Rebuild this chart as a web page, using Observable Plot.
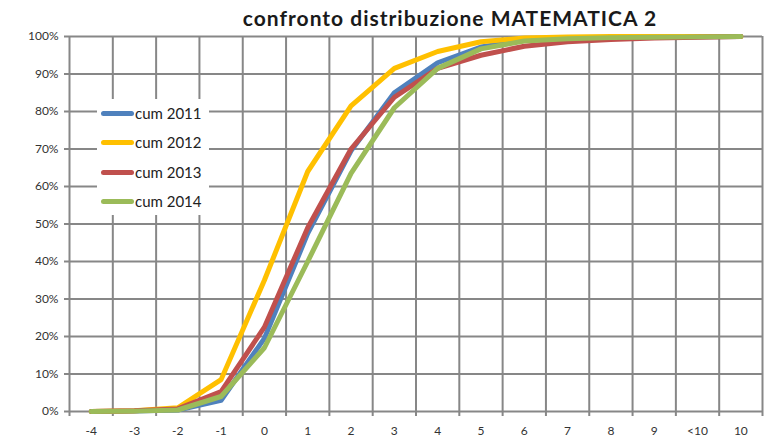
<!DOCTYPE html>
<html><head><meta charset="utf-8">
<script src="https://cdn.jsdelivr.net/npm/d3@7"></script>
<script src="https://cdn.jsdelivr.net/npm/@observablehq/plot@0.6"></script>
<style>
html,body{margin:0;padding:0;background:#fff;}
#wrap{position:relative;width:774px;height:441px;font-family:Lato,"Liberation Sans",sans-serif;}
#title{position:absolute;left:0;top:5px;width:900px;text-align:center;font-weight:bold;font-size:21px;letter-spacing:1px;color:#1a1a1a;}
#legend{position:absolute;left:97px;top:99px;width:112px;height:116px;background:#fff;}
.li{position:absolute;left:4px;height:20px;display:flex;align-items:center;font-size:15px;color:#222;}
.sw{width:33px;height:5px;border-radius:3px;margin-right:1px;}
</style></head>
<body><div id="wrap"><div id="chart"></div><div id="title">confronto distribuzione MATEMATICA 2</div><div id="legend"></div></div>
<script>
const categories = ["-4","-3","-2","-1","0","1","2","3","4","5","6","7","8","9","<10","10"];
const seriesNames = ["cum 2011","cum 2012","cum 2013","cum 2014"];
const seriesColors = ["#4F81BD","#FFC000","#C0504D","#9BBB59"];
const cum2011 = [0,0.001,0.004,0.03,0.195,0.475,0.695,0.85,0.93,0.972,0.99,0.995,0.997,0.998,0.999,1];
const cum2012 = [0,0.002,0.01,0.085,0.35,0.64,0.815,0.915,0.96,0.986,0.996,0.999,1,1,1,1];
const cum2013 = [0,0.002,0.007,0.053,0.225,0.49,0.70,0.838,0.915,0.95,0.974,0.986,0.992,0.996,0.998,1];
const cum2014 = [0,0.001,0.004,0.04,0.17,0.40,0.635,0.81,0.915,0.967,0.988,0.994,0.997,0.998,0.999,1];
const yTicks = [0,0.1,0.2,0.3,0.4,0.5,0.6,0.7,0.8,0.9,1];

const allSeries = [cum2011,cum2012,cum2013,cum2014];
const rows = [];
allSeries.forEach((s,k)=>s.forEach((v,i)=>rows.push({series:seriesNames[k], i, v})));
const centers = categories.map((c,i)=>i);
const bounds = d3.range(-0.5, categories.length, 1);
const grid = "#878787";

const chart = Plot.plot({
  width:774, height:441,
  marginLeft:69, marginRight:12, marginTop:36, marginBottom:30,
  style:{fontFamily:"Lato, 'Liberation Sans', sans-serif", fontSize:"12px", color:"#333"},
  x:{type:"linear", domain:[-0.5, categories.length-0.5], axis:null, label:null},
  y:{domain:[0,1], axis:null, label:null},
  color:{domain:seriesNames, range:seriesColors},
  marks:[
    Plot.ruleY(yTicks,{stroke:grid, strokeWidth:2}),
    Plot.ruleX(bounds,{stroke:grid, strokeWidth:2}),
    Plot.axisY({ticks:yTicks, label:null, tickFormat:d=>Math.round(d*100)+"%", tickSize:5, tickPadding:6, stroke:grid, strokeWidth:2, strokeOpacity:1, fontSize:12, fill:"#333"}),
    Plot.axisX({ticks:bounds, label:null, tickFormat:()=>"", tickSize:5, stroke:grid, strokeWidth:2, strokeOpacity:1}),
    Plot.axisX({ticks:centers, label:null, tickFormat:i=>categories[i], tickSize:0, tickPadding:15, fontSize:12, fill:"#333"}),
    Plot.line(rows,{x:"i", y:"v", z:"series", stroke:"series", strokeWidth:5, strokeLinejoin:"round", strokeLinecap:"round"})
  ]
});
document.getElementById("chart").appendChild(chart);

const lg = document.getElementById("legend");
const tops = [4,33,63,92];
seriesNames.forEach((n,k)=>{
  const d = document.createElement("div");
  d.className="li"; d.style.top = tops[k]+"px";
  d.innerHTML = `<span class="sw" style="background:${seriesColors[k]}"></span>${n}`;
  lg.appendChild(d);
});
</script></body></html>
